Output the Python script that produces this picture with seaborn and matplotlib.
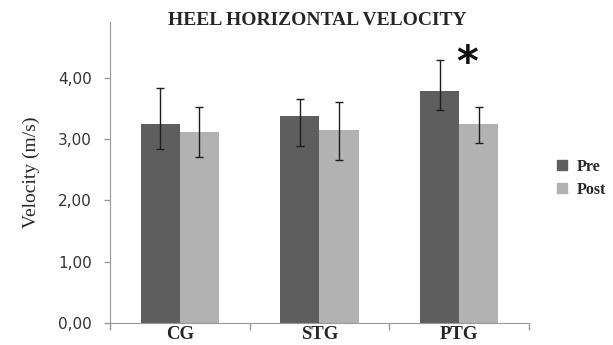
import pandas as pd
import numpy as np
import matplotlib
matplotlib.use("Agg")
import matplotlib.pyplot as plt
import seaborn as sns
from matplotlib.ticker import FuncFormatter
from matplotlib.lines import Line2D

sns.set_style("ticks")

# --- datos ---
groups = ["CG", "STG", "PTG"]
phases = ["Pre", "Post"]
pre_mean = [3.25, 3.37, 3.79]
post_mean = [3.12, 3.14, 3.25]
pre_err_low = [0.42, 0.48, 0.31]
pre_err_high = [0.59, 0.28, 0.50]
post_err_low = [0.41, 0.48, 0.31]
post_err_high = [0.40, 0.47, 0.27]

df = pd.DataFrame({
    "group": groups * 2,
    "phase": ["Pre"] * 3 + ["Post"] * 3,
    "velocity": pre_mean + post_mean,
})

colores = {"Pre": "#5e5e5e", "Post": "#b2b2b2"}
serif = ["Liberation Serif", "DejaVu Serif"]

fig = plt.figure(figsize=(6.13, 3.45), dpi=100)
ax = fig.add_axes([0.1794, 0.0638, 0.6835, 0.8725])

sns.barplot(data=df, x="group", y="velocity", hue="phase", order=groups,
            hue_order=phases, palette=colores, width=0.56, gap=0,
            errorbar=None, saturation=1, legend=False, linewidth=0, ax=ax)

# barras de error asimetricas sobre cada barra
centros = sorted([p.get_x() + p.get_width() / 2 for p in ax.patches])
x_pre = centros[0::2]
x_post = centros[1::2]
ax.errorbar(x_pre, pre_mean, yerr=[pre_err_low, pre_err_high], fmt="none",
            ecolor="#1e1e1e", elinewidth=1.0, capsize=2.8, capthick=1.0)
ax.errorbar(x_post, post_mean, yerr=[post_err_low, post_err_high], fmt="none",
            ecolor="#1e1e1e", elinewidth=1.0, capsize=2.8, capthick=1.0)

ax.text(2.06, 4.22, "*", fontsize=30, fontweight="bold", ha="center",
        va="center", color="#111111", family="DejaVu Sans")

ax.set_xlim(-0.5, 2.5)
ax.set_ylim(0, 4.91)
ax.set_yticks([0, 1, 2, 3, 4])
ax.yaxis.set_major_formatter(FuncFormatter(lambda v, p: f"{v:.2f}".replace(".", ",")))
ax.set_xticks([0, 1, 2])
ax.set_xticklabels(groups, fontfamily=serif, fontweight="bold", fontsize=13.5)
ax.set_xticks([-0.5, 0.5, 1.5, 2.5], minor=True)
ax.tick_params(axis="x", which="major", length=0, pad=2)
ax.tick_params(axis="x", which="minor", length=5, color="#999999", width=1)
ax.tick_params(axis="y", length=4, color="#999999", width=1, labelsize=11,
               labelcolor="#333333", pad=9)
for lbl in ax.get_yticklabels():
    lbl.set_fontfamily("DejaVu Sans")

sns.despine(ax=ax)
ax.spines["left"].set_color("#999999")
ax.spines["bottom"].set_color("#999999")
ax.set_xlabel("")
ax.set_ylabel("Velocity (m/s)", fontfamily=serif, fontsize=14, labelpad=13)

fig.text(0.517, 0.942, "HEEL HORIZONTAL VELOCITY", ha="center", va="center",
         fontfamily=serif, fontweight="bold", fontsize=14)

# leyenda
handles = [Line2D([], [], marker="s", ls="none", markersize=7,
                  markerfacecolor=colores[f], markeredgecolor=colores[f])
           for f in phases]
fig.legend(handles, phases, loc="center left", bbox_to_anchor=(0.907, 0.483),
           frameon=False, handlelength=0.8, handletextpad=0.5, labelspacing=0.45,
           borderaxespad=0, borderpad=0,
           prop={"family": serif, "weight": "bold", "size": 11.5})

fig.savefig("out.png", dpi=100)
